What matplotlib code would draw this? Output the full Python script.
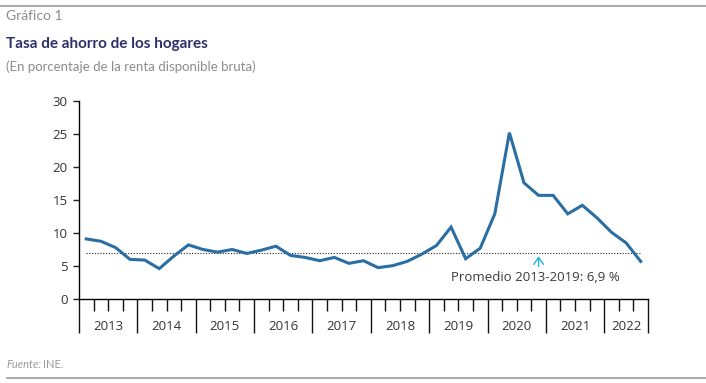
import numpy as np
import matplotlib.pyplot as plt
from matplotlib.transforms import blended_transform_factory

# tasa de ahorro trimestral, 2013T1 - 2022T3
years = ["2013", "2014", "2015", "2016", "2017", "2018", "2019", "2020", "2021", "2022"]
quarters_per_year = [4, 4, 4, 4, 4, 4, 4, 4, 4, 3]
savings_rate = [
    9.1, 8.75, 7.8, 6.0,
    5.9, 4.6, 6.5, 8.2,
    7.5, 7.1, 7.5, 6.9,
    7.4, 8.0, 6.6, 6.3,
    5.8, 6.3, 5.4, 5.8,
    4.75, 5.05, 5.7, 6.8,
    8.1, 10.9, 6.1, 7.7,
    12.9, 25.2, 17.6, 15.7,
    15.7, 12.9, 14.2, 12.3,
    10.1, 8.5, 5.7,
]
average = 6.9
average_label = "Promedio 2013-2019: 6,9 %"
arrow_quarter = 31  # 2020T4

plt.rcParams['font.family'] = ['Open Sans', 'DejaVu Sans']

W, H = 706, 383
fig = plt.figure(figsize=(W / 100, H / 100), dpi=100)

# marco: lineas grises arriba y abajo
fig.add_artist(plt.Line2D([0, 1], [1 - 6 / H, 1 - 6 / H], color="#9a9a9a", lw=1.2))
fig.add_artist(plt.Line2D([7 / W, 1], [1 - 378 / H, 1 - 378 / H], color="#9a9a9a", lw=1.2))

fig.text(6 / W, 1 - 16 / H, "Gráfico 1", color="#8c8c8c", fontsize=10, va="center", family=['Lato'])
fig.text(6 / W, 1 - 44 / H, "Tasa de ahorro de los hogares", color="#2d2f6b",
         fontsize=11, fontweight="bold", va="center", family=['Lato'])
fig.text(6 / W, 1 - 67 / H, "(En porcentaje de la renta disponible bruta)", color="#8c8c8c",
         fontsize=9.5, va="center", family=['Lato'])
fig.text(6 / W, 1 - 365 / H, "Fuente:", color="#9a9a9a", fontsize=8, style="italic", va="center",
         family=['Lato'])
fig.text(43 / W, 1 - 365 / H, "INE.", color="#9a9a9a", fontsize=8, va="center", family=['Lato'])

ax = fig.add_axes([79 / W, 1 - 299 / H, (648 - 79) / W, (299 - 101) / H])

n = len(savings_rate)
x = np.arange(n) + 0.5
ax.plot(x, savings_rate, color="#2a6ea3", lw=2.2, solid_joinstyle="miter", zorder=3)
ax.plot([x[0], x[-1]], [average, average], color="#222222", lw=0.8, ls=(0, (1, 1.5)), zorder=2)

ax.annotate("", xy=(x[arrow_quarter], average), xytext=(x[arrow_quarter], average - 2.4),
            arrowprops=dict(arrowstyle="->,head_width=0.35,head_length=0.5", color="#1fb3e0", lw=1.0))
ax.text(x[arrow_quarter] - 0.2, average - 3.6, average_label, ha="center", va="center",
        fontsize=9.5, color="#3a3a3a")

ax.set_xlim(0, n)
ax.set_ylim(0, 30)
ax.set_yticks(range(0, 31, 5))
ax.tick_params(axis="y", length=4, width=1, colors="#222222", labelsize=9.5, pad=4)
for lbl in ax.get_yticklabels():
    lbl.set_color("#333333")

bounds = np.concatenate([[0], np.cumsum(quarters_per_year)])
ax.set_xticks(bounds)
ax.set_xticklabels([])
ax.set_xticks([q for q in range(n) if q not in bounds], minor=True)
ax.tick_params(axis="x", which="major", length=24.5, width=1, color="#111111")
ax.tick_params(axis="x", which="minor", length=8.6, width=1, color="#111111")

trans = blended_transform_factory(ax.transData, ax.transAxes)
for i, yr in enumerate(years):
    ax.text((bounds[i] + bounds[i + 1]) / 2, -27 / 198, yr, transform=trans,
            ha="center", va="center", fontsize=9.5, color="#333333")

for s in ["top", "right"]:
    ax.spines[s].set_visible(False)
ax.spines["left"].set_linewidth(1)
ax.spines["bottom"].set_linewidth(1)

fig.savefig("out.png", dpi=100)
